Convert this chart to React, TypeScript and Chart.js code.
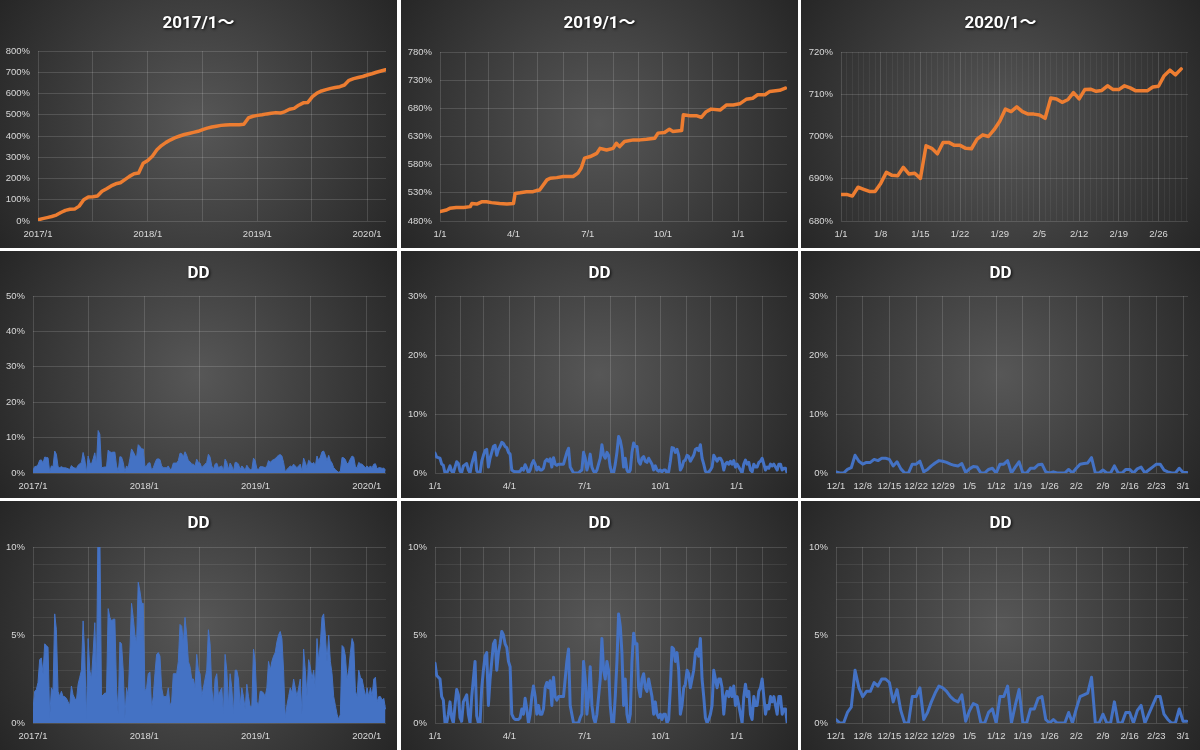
import React, { useEffect, useRef } from 'react';
import { Chart, registerables } from 'chart.js';

Chart.register(...registerables);

// ---------------- data ----------------
const EQ2017_START = '2017-01-01';
const EQ2017_STEP_DAYS = 15.22; // half-month samples
const EQ2017_VALUES = [
  5, 11, 16, 21, 28, 40, 50, 55, 56, 70,
  100, 113, 114, 118, 140, 152, 165, 175, 180, 195,
  210, 222, 226, 272, 285, 305, 335, 355, 370, 382,
  392, 400, 407, 412, 417, 422, 430, 437, 442, 446,
  450, 452, 453, 453, 453, 455, 485, 493, 497, 500,
  504, 507, 510, 508, 515, 526, 530, 545, 556, 558,
  585, 602, 612, 618, 624, 628, 632, 640, 662, 670,
  675, 680, 687, 693, 700, 706, 712,
];

const EQ2019_START = '2019-01-01';
const EQ2019_DATES = [
  '2019-01-01', '2019-01-09', '2019-01-13', '2019-01-21', '2019-01-30', '2019-02-07', '2019-02-09', '2019-02-15',
  '2019-02-21', '2019-02-27', '2019-03-05', '2019-03-15', '2019-03-24', '2019-04-01', '2019-04-03', '2019-04-09',
  '2019-04-17', '2019-04-25', '2019-04-29', '2019-05-03', '2019-05-12', '2019-05-16', '2019-05-24', '2019-06-01',
  '2019-06-13', '2019-06-19', '2019-06-23', '2019-06-27', '2019-07-04', '2019-07-12', '2019-07-16', '2019-07-24',
  '2019-08-01', '2019-08-05', '2019-08-09', '2019-08-15', '2019-08-26', '2019-09-03', '2019-09-11', '2019-09-21',
  '2019-09-25', '2019-10-03', '2019-10-09', '2019-10-13', '2019-10-24', '2019-10-26', '2019-11-03', '2019-11-11',
  '2019-11-17', '2019-11-23', '2019-11-29', '2019-12-10', '2019-12-18', '2019-12-26', '2020-01-03', '2020-01-11',
  '2020-01-19', '2020-01-25', '2020-02-03', '2020-02-09', '2020-02-21', '2020-02-28',
];
const EQ2019_VALUES = [
  496.6, 499.6, 502.5, 504, 504, 505.5, 511, 510,
  514, 514, 512.6, 511, 510, 511, 529, 530,
  532, 532, 534, 535, 553, 556, 557, 559,
  559, 565, 574, 591.5, 594.4, 600, 609, 606,
  609, 618, 612, 621, 624, 624, 625, 627,
  636, 637, 643, 639, 640.6, 668.5, 667, 667,
  664, 674, 678.6, 677, 686, 686, 688, 696,
  698, 704, 704, 710, 712, 716,
];

const EQ2020_START = '2020-01-01';
const EQ2020_VALUES = [
  686.3, 686.3, 685.9, 688.0, 687.5, 687.0, 687.0, 688.9, 691.5, 690.8,
  690.7, 692.7, 691.1, 691.3, 690.1, 697.8, 697.2, 695.9, 698.6, 698.6,
  697.9, 697.9, 697.2, 697.1, 699.4, 700.4, 700.0, 701.6, 703.6, 706.5,
  705.9, 707.0, 705.9, 705.3, 705.3, 705.1, 704.3, 709.1, 708.9, 708.1,
  708.7, 710.4, 708.9, 711.1, 711.2, 710.7, 710.9, 712.0, 711.1, 711.1,
  712.0, 711.5, 710.8, 710.8, 710.8, 711.7, 711.9, 714.4, 715.7, 714.6,
  716.0,
];

const DD2017_START = '2017-01-01';
const DD2017_STEP_DAYS = 5.48;
const DD2017_VALUES = [
  0.8, 1.8, 1.9, 2.3, 3.6, 3.7, 2.8, 4.5, 4.4, 4.3, 0.3, 2.0, 1.8, 6.2, 5.3, 1.8, 1.5, 1.8, 1.5, 1.5,
  1.4, 1.2, 1.0, 2.1, 1.6, 1.4, 1.3, 2.2, 2.6, 3.0, 5.8, 3.8, 0.2, 4.8, 3.0, 2.5, 4.0, 5.7, 2.5, 12.0,
  11.0, 1.5, 1.6, 1.7, 1.7, 6.5, 6.0, 5.8, 5.9, 5.9, 2.0, 0.5, 4.6, 4.5, 3.0, 0.3, 2.0, 1.5, 4.0, 6.8,
  6.0, 5.0, 4.5, 8.0, 7.5, 6.8, 6.8, 1.8, 2.0, 2.8, 2.9, 0.8, 1.5, 2.8, 3.9, 4.0, 3.8, 2.0, 1.5, 1.5,
  1.5, 2.0, 1.0, 1.2, 2.8, 2.8, 2.8, 3.5, 5.6, 5.5, 4.5, 6.0, 5.0, 3.5, 3.2, 2.5, 2.5, 2.0, 3.9, 3.0,
  2.8, 1.5, 2.0, 2.5, 3.0, 5.3, 4.5, 2.0, 1.0, 2.5, 2.8, 1.5, 1.8, 2.0, 0.5, 3.9, 3.0, 1.0, 2.8, 2.0,
  0.5, 3.0, 3.0, 2.5, 1.0, 2.0, 1.5, 0.8, 2.2, 1.5, 0.9, 1.0, 4.2, 3.5, 1.2, 1.0, 1.8, 1.8, 1.7, 1.5,
  2.0, 3.5, 3.0, 3.5, 3.8, 4.0, 4.6, 5.0, 5.2, 4.8, 3.0, 0.3, 1.0, 1.5, 2.0, 1.7, 2.5, 2.0, 1.5, 2.0,
  2.5, 0.5, 4.2, 3.0, 1.5, 3.6, 3.2, 2.5, 3.0, 2.0, 4.8, 3.5, 4.5, 6.0, 6.2, 5.0, 3.5, 5.0, 3.5, 2.8,
  1.5, 1.0, 0.5, 0.2, 0.5, 4.4, 4.3, 3.8, 2.5, 3.0, 4.0, 4.8, 4.5, 1.8, 1.5, 3.0, 2.6, 2.5, 2.0, 1.5,
  2.0, 1.5, 2.0, 1.5, 2.5, 2.6, 1.2, 1.5, 1.5, 1.3, 1.4, 0.8,
];

const DD2019_START = '2019-01-01';
const DD2019_STEP_DAYS = 2.02;
const DD2019_VALUES = [
  3.4, 2.7, 2.6, 2.5, 1.5, 1.3, 0, 0, 0.5, 1.2, 0.3, 0, 1.0, 1.9, 1.6, 0.3, 0.1, 1.2, 1.4, 1.6,
  0.5, 0, 1.5, 2.5, 3.5, 0.4, 0, 0, 2.0, 3.0, 3.8, 4.0, 1.0, 2.5, 3.5, 4.5, 4.7, 3.0, 4.0, 4.5,
  5.2, 5.0, 4.5, 4.3, 3.5, 3.2, 0.5, 0.3, 0.2, 0.2, 0.2, 0.3, 0.8, 0.5, 1.4, 0.8, 0, 0.5, 1.5, 2.1,
  1.5, 0.5, 1.0, 0.5, 0.5, 0.8, 2.0, 2.3, 2.0, 2.4, 1.0, 2.6, 1.5, 1.3, 1.5, 1.5, 1.5, 1.5, 2.5, 3.5,
  4.2, 1.0, 0.5, 0, 0, 0, 0, 0.3, 0.5, 3.5, 2.5, 0.5, 1.5, 3.2, 1.0, 0.3, 0, 0.5, 1.5, 2.5,
  4.8, 3.0, 2.5, 3.5, 3.0, 1.0, 0, 0, 1.5, 3.5, 6.2, 5.5, 4.0, 1.0, 2.5, 0.5, 0, 0.5, 3.5, 5.1,
  4.5, 4.5, 2.0, 1.5, 2.5, 2.8, 2.0, 1.8, 2.5, 2.0, 1.5, 0.5, 1.2, 0.5, 0.3, 0.5, 0.2, 0.5, 0.5, 0,
  0.2, 2.0, 4.3, 4.2, 3.5, 4.0, 3.0, 0.5, 1.0, 2.0, 2.2, 3.0, 2.8, 2.0, 2.5, 3.0, 4.0, 4.2, 3.8, 4.8,
  2.5, 1.5, 0.3, 0, 0.2, 0.5, 1.0, 3.0, 2.5, 2.0, 2.5, 2.5, 2.0, 0.5, 1.5, 1.8, 1.5, 2.0, 1.5, 2.1,
  1.0, 1.5, 1.0, 0.5, 0, 1.5, 2.2, 1.5, 1.8, 0.5, 0.2, 1.5, 1.0, 1.0, 1.8, 2.0, 2.5, 1.5, 0.5, 1.0,
  0.8, 1.5, 1.2, 1.5, 1.0, 0.5, 1.5, 1.5, 0.5, 0.8, 0.8, 0,
];

const DDDEC_START = '2019-12-01';
const DDDEC_VALUES = [
  0.2, 0, 0, 0.6, 0.9, 3.0, 2.0, 1.5, 1.8, 1.8,
  2.3, 2.1, 2.5, 2.5, 2.3, 1.2, 1.9, 0.7, 0, 0,
  1.5, 1.5, 2.0, 0.2, 0.6, 1.2, 1.7, 2.1, 2.0, 1.8,
  1.5, 1.3, 1.2, 1.6, 0.1, 0.7, 1.1, 1.0, 0, 0,
  0.6, 0.8, 0, 1.5, 1.5, 2.1, 0, 1.0, 1.9, 0,
  0, 0.8, 0.8, 1.4, 1.5, 0.2, 0, 0.2, 0, 0,
  0, 0.6, 0, 0.8, 1.5, 1.6, 1.7, 2.6, 0, 0,
  0.5, 0, 0, 1.2, 0, 0, 0.6, 0.6, 0, 0.7,
  1.0, 0, 0.5, 1.0, 1.5, 1.5, 0.5, 0.2, 0, 0,
  0.8, 0.1, 0.1,
];

// ---------------- axis ticks ----------------
const X_TICKS_2017 = ['2017-01-01', '2017-07-01', '2018-01-01', '2018-07-01', '2019-01-01', '2019-07-01', '2020-01-01'];
const X_LABELS_2017 = ['2017/1', '', '2018/1', '', '2019/1', '', '2020/1'];

const X_TICKS_2019 = [
  '2019-01-01', '2019-02-01', '2019-03-01', '2019-04-01', '2019-05-01', '2019-06-01', '2019-07-01',
  '2019-08-01', '2019-09-01', '2019-10-01', '2019-11-01', '2019-12-01', '2020-01-01', '2020-02-01',
];
const X_LABELS_2019 = ['1/1', '', '', '4/1', '', '', '7/1', '', '', '10/1', '', '', '1/1', ''];

const X_TICKS_2020 = ['2020-01-01', '2020-01-08', '2020-01-15', '2020-01-22', '2020-01-29', '2020-02-05', '2020-02-12', '2020-02-19', '2020-02-26'];
const X_LABELS_2020 = ['1/1', '1/8', '1/15', '1/22', '1/29', '2/5', '2/12', '2/19', '2/26'];

const X_TICKS_DEC = [
  '2019-12-01', '2019-12-08', '2019-12-15', '2019-12-22', '2019-12-29', '2020-01-05', '2020-01-12',
  '2020-01-19', '2020-01-26', '2020-02-02', '2020-02-09', '2020-02-16', '2020-02-23', '2020-03-01',
];
const X_LABELS_DEC = ['12/1', '12/8', '12/15', '12/22', '12/29', '1/5', '1/12', '1/19', '1/26', '2/2', '2/9', '2/16', '2/23', '3/1'];

// ---------------- helpers ----------------
const DAY = 86400000;
const parseDate = (s: string) => {
  const [y, m, d] = s.split('-').map(Number);
  return Date.UTC(y, m - 1, d);
};
const toDay = (s: string, origin: string) => (parseDate(s) - parseDate(origin)) / DAY;

const stepSeries = (step: number, values: number[]) => values.map((v, i) => ({ x: i * step, y: v }));
const datedSeries = (origin: string, dates: string[], values: number[]) =>
  values.map((v, i) => ({ x: toDay(dates[i], origin), y: v }));

type Tick = { value: number; label: string; major: boolean };
function makeTicks(origin: string, dates: string[], labels: string[], minorStep = 0, max = 0): Tick[] {
  const major = dates.map((d, i) => ({ value: toDay(d, origin), label: labels[i], major: true }));
  if (!minorStep) return major;
  const out: Tick[] = [];
  for (let v = 0; v <= max + 1e-9; v += minorStep) {
    const m = major.find((t) => Math.abs(t.value - v) < 1e-6);
    out.push(m ?? { value: v, label: '', major: false });
  }
  return out;
}

// ---------------- style ----------------
const ORANGE = '#ED7D31';
const BLUE = '#4472C4';
const TEXT = '#D9D9D9';
const GRID = 'rgba(255,255,255,0.14)';
const GRID_MINOR = 'rgba(255,255,255,0.055)';
const LABEL_FONT = "'Liberation Sans', Arial, sans-serif";
const TITLE_FONT = "Roboto, 'Liberation Sans', 'Noto Sans CJK JP', sans-serif";

type Panel = {
  x: number; y: number; w: number; h: number;
  plot: { l: number; r: number; t: number; b: number };
  title: string; titleY: number;
  points: { x: number; y: number }[];
  color: string; lineWidth: number; fill: boolean;
  xMax: number; xTicks: Tick[];
  yMin: number; yMax: number; yStep: number; yLabelEvery: number;
};

const TICKS_2017 = makeTicks(EQ2017_START, X_TICKS_2017, X_LABELS_2017);
const TICKS_2019 = makeTicks(EQ2019_START, X_TICKS_2019, X_LABELS_2019);
const TICKS_2020 = makeTicks(EQ2020_START, X_TICKS_2020, X_LABELS_2020, 1, 61);
const TICKS_DEC = makeTicks(DDDEC_START, X_TICKS_DEC, X_LABELS_DEC);

const eq2017 = stepSeries(EQ2017_STEP_DAYS, EQ2017_VALUES);
const eq2019 = datedSeries(EQ2019_START, EQ2019_DATES, EQ2019_VALUES);
const eq2020 = stepSeries(1, EQ2020_VALUES);
const dd2017 = stepSeries(DD2017_STEP_DAYS, DD2017_VALUES);
const dd2019 = stepSeries(DD2019_STEP_DAYS, DD2019_VALUES);
const ddDec = stepSeries(1, DDDEC_VALUES);

const PANELS: Panel[] = [
  { x: 0, y: 0, w: 397, h: 248, plot: { l: 38, r: 386, t: 51, b: 221 }, title: '2017/1～', titleY: 24,
    points: eq2017, color: ORANGE, lineWidth: 3.5, fill: false, xMax: 1158, xTicks: TICKS_2017,
    yMin: 0, yMax: 800, yStep: 100, yLabelEvery: 100 },
  { x: 401, y: 0, w: 397, h: 248, plot: { l: 39, r: 386, t: 52, b: 221 }, title: '2019/1～', titleY: 24,
    points: eq2019, color: ORANGE, lineWidth: 3.5, fill: false, xMax: 425, xTicks: TICKS_2019,
    yMin: 480, yMax: 780, yStep: 50, yLabelEvery: 50 },
  { x: 801, y: 0, w: 399, h: 248, plot: { l: 40, r: 387, t: 52, b: 221 }, title: '2020/1～', titleY: 24,
    points: eq2020, color: ORANGE, lineWidth: 3.5, fill: false, xMax: 61.2, xTicks: TICKS_2020,
    yMin: 680, yMax: 720, yStep: 10, yLabelEvery: 10 },
  { x: 0, y: 251, w: 397, h: 247, plot: { l: 33, r: 386, t: 45, b: 222 }, title: 'DD', titleY: 23,
    points: dd2017, color: BLUE, lineWidth: 1, fill: true, xMax: 1158, xTicks: TICKS_2017,
    yMin: 0, yMax: 50, yStep: 10, yLabelEvery: 10 },
  { x: 401, y: 251, w: 397, h: 247, plot: { l: 34, r: 386, t: 45, b: 222 }, title: 'DD', titleY: 23,
    points: dd2019, color: BLUE, lineWidth: 3, fill: false, xMax: 426, xTicks: TICKS_2019,
    yMin: 0, yMax: 30, yStep: 10, yLabelEvery: 10 },
  { x: 801, y: 251, w: 399, h: 247, plot: { l: 35, r: 387, t: 45, b: 222 }, title: 'DD', titleY: 23,
    points: ddDec, color: BLUE, lineWidth: 3, fill: false, xMax: 92.3, xTicks: TICKS_DEC,
    yMin: 0, yMax: 30, yStep: 10, yLabelEvery: 10 },
  { x: 0, y: 501, w: 397, h: 249, plot: { l: 33, r: 386, t: 46, b: 222 }, title: 'DD', titleY: 23,
    points: dd2017, color: BLUE, lineWidth: 1, fill: true, xMax: 1158, xTicks: TICKS_2017,
    yMin: 0, yMax: 10, yStep: 1, yLabelEvery: 5 },
  { x: 401, y: 501, w: 397, h: 249, plot: { l: 34, r: 386, t: 46, b: 222 }, title: 'DD', titleY: 23,
    points: dd2019, color: BLUE, lineWidth: 3, fill: false, xMax: 426, xTicks: TICKS_2019,
    yMin: 0, yMax: 10, yStep: 1, yLabelEvery: 5 },
  { x: 801, y: 501, w: 399, h: 249, plot: { l: 35, r: 387, t: 46, b: 222 }, title: 'DD', titleY: 23,
    points: ddDec, color: BLUE, lineWidth: 3, fill: false, xMax: 92.3, xTicks: TICKS_DEC,
    yMin: 0, yMax: 10, yStep: 1, yLabelEvery: 5 },
];

const decoPlugin = {
  id: 'panelDeco',
  beforeDraw(chart: any) {
    const { ctx, width, height } = chart;
    ctx.save();
    const g = ctx.createRadialGradient(width / 2, height / 2, 0, width / 2, height / 2, Math.hypot(width, height) / 2);
    g.addColorStop(0, '#575757');
    g.addColorStop(1, '#262626');
    ctx.fillStyle = g;
    ctx.fillRect(0, 0, width, height);
    ctx.restore();
  },
  afterDraw(chart: any, _args: any, opts: any) {
    const { ctx, width } = chart;
    ctx.save();
    ctx.font = `bold 17px ${TITLE_FONT}`;
    ctx.textAlign = 'center';
    ctx.textBaseline = 'middle';
    ctx.shadowColor = 'rgba(0,0,0,0.9)';
    ctx.shadowBlur = 3;
    ctx.shadowOffsetX = 1;
    ctx.shadowOffsetY = 1;
    ctx.fillStyle = '#FFFFFF';
    ctx.fillText(opts.title, width / 2, opts.titleY);
    ctx.restore();
  },
};

function buildConfig(p: Panel): any {
  const ticks = p.xTicks;
  const isLabel = (v: number) => Math.abs(((v - p.yMin) / p.yLabelEvery) - Math.round((v - p.yMin) / p.yLabelEvery)) < 1e-6;
  return {
    type: 'line',
    data: {
      datasets: [{
        data: p.points,
        borderColor: p.color,
        backgroundColor: p.color,
        borderWidth: p.lineWidth,
        pointRadius: 0,
        fill: p.fill ? 'origin' : false,
        tension: 0,
        borderJoinStyle: 'round',
        borderCapStyle: 'round',
      }],
    },
    options: {
      responsive: false,
      animation: false,
      events: [],
      devicePixelRatio: 1,
      layout: { padding: { top: p.plot.t, right: p.w - p.plot.r, left: 0, bottom: 0 } },
      plugins: {
        legend: { display: false },
        tooltip: { enabled: false },
        title: { display: false },
        panelDeco: { title: p.title, titleY: p.titleY },
      },
      scales: {
        x: {
          type: 'linear',
          min: 0,
          max: p.xMax,
          afterBuildTicks: (s: any) => { s.ticks = ticks.map((t) => ({ value: t.value })); },
          afterFit: (s: any) => { s.height = p.h - p.plot.b; },
          ticks: {
            autoSkip: false, maxRotation: 0, minRotation: 0, padding: 8,
            color: TEXT, font: { family: LABEL_FONT, size: 9.5 },
            callback: (_v: any, i: number) => ticks[i]?.label ?? '',
          },
          grid: {
            drawTicks: false,
            color: (c: any) => (ticks[c.index]?.major ? GRID : GRID_MINOR),
          },
          border: { display: false },
        },
        y: {
          type: 'linear',
          min: p.yMin,
          max: p.yMax,
          afterFit: (s: any) => { s.width = p.plot.l; },
          ticks: {
            stepSize: p.yStep, autoSkip: false, padding: 8,
            color: TEXT, font: { family: LABEL_FONT, size: 9.5 },
            callback: (v: number) => (isLabel(v) ? `${Math.round(v)}%` : ''),
          },
          grid: {
            drawTicks: false,
            color: (c: any) => (c.tick && isLabel(c.tick.value) ? GRID : 'rgba(255,255,255,0.08)'),
          },
          border: { display: false },
        },
      },
    },
    plugins: [decoPlugin],
  };
}

function ChartPanel({ p }: { p: Panel }) {
  const ref = useRef<HTMLCanvasElement>(null);
  useEffect(() => {
    const chart = new Chart(ref.current as HTMLCanvasElement, buildConfig(p));
    return () => chart.destroy();
  }, [p]);
  return (
    <canvas
      ref={ref}
      width={p.w}
      height={p.h}
      style={{ position: 'absolute', left: p.x, top: p.y, width: p.w, height: p.h, display: 'block' }}
    />
  );
}

export default function App() {
  return (
    <div style={{ position: 'fixed', left: 0, top: 0, width: 1200, height: 750, background: '#FFFFFF', overflow: 'hidden' }}>
      {PANELS.map((p, i) => (
        <ChartPanel key={i} p={p} />
      ))}
    </div>
  );
}
